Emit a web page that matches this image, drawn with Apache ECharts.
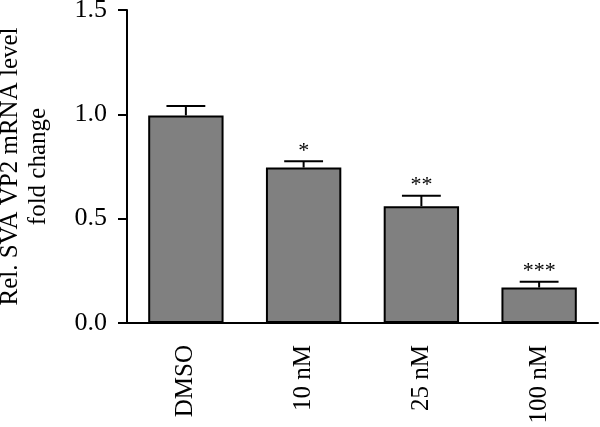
<!DOCTYPE html>
<html>
<head>
<meta charset="utf-8">
<script src="https://cdn.jsdelivr.net/npm/echarts@6/dist/echarts.min.js"></script>
<style>
    html, body { margin: 0; padding: 0; background: #fff; }
    #chartBox { width: 600px; height: 427px; }
</style>
</head>
<body>
<div id="chartBox"></div>
<script>
var categories = ['DMSO', '10 nM', '25 nM', '100 nM'];
var foldValues = [0.995, 0.745, 0.56, 0.17];
var errValues = [0.045, 0.03, 0.05, 0.028];
var sigLabels = ['', '*', '**', '***'];
var yTicks = [0, 0.5, 1.0, 1.5];

(function(){
    var _font = '"Liberation Serif", "DejaVu Serif", serif',
        _chart;

    // 误差线 + 显著性星号
    function renderError(params, api){
        var _x = api.value(0),
            _v = api.value(1),
            _e = api.value(2),
            _base = api.coord([_x, _v]),
            _top = api.coord([_x, _v + _e]),
            _half = api.size([1, 0])[0] * 0.165,
            _lineStyle = {stroke: '#000', lineWidth: 2};
        return {
            type: 'group',
            children: [
                {type: 'line', shape: {x1: _base[0], y1: _base[1], x2: _top[0], y2: _top[1]}, style: _lineStyle},
                {type: 'line', shape: {x1: _top[0] - _half, y1: _top[1], x2: _top[0] + _half, y2: _top[1]}, style: _lineStyle},
                {type: 'text', style: {
                    text: sigLabels[params.dataIndex],
                    x: _top[0], y: _top[1] + 1,
                    align: 'center', verticalAlign: 'bottom',
                    font: '22px ' + _font, fill: '#000'
                }}
            ]
        };
    }

    function getParams(){
        return {
            animation: false,
            grid: {left: 127, right: 2, top: 10, bottom: 104, outerBoundsMode: 'none', containLabel: false},
            xAxis: {
                type: 'category',
                data: categories,
                axisLine: {lineStyle: {color: '#000', width: 2}},
                axisTick: {alignWithLabel: true, length: 9, lineStyle: {color: '#000', width: 2}},
                axisLabel: {rotate: 90, margin: 22, color: '#000', fontSize: 25, fontFamily: _font}
            },
            yAxis: {
                type: 'value',
                min: yTicks[0],
                max: yTicks[yTicks.length - 1],
                interval: 0.5,
                name: 'Rel. SVA VP2 mRNA level\nfold change',
                nameLocation: 'middle',
                nameRotate: 90,
                nameGap: 75,
                nameTextStyle: {color: '#000', fontSize: 25, fontFamily: _font, lineHeight: 28},
                axisLine: {show: true, lineStyle: {color: '#000', width: 2}},
                axisTick: {show: true, length: 9, lineStyle: {color: '#000', width: 2}},
                axisLabel: {
                    margin: 20, color: '#000', fontSize: 26, fontFamily: _font,
                    formatter: function(v){ return v.toFixed(1); }
                },
                splitLine: {show: false}
            },
            series: [
                {
                    type: 'bar',
                    data: foldValues,
                    barWidth: '64%',
                    itemStyle: {color: '#808080', borderColor: '#000', borderWidth: 2}
                },
                {
                    type: 'custom',
                    renderItem: renderError,
                    data: foldValues.map(function(v, i){ return [i, v, errValues[i]]; }),
                    z: 1
                }
            ]
        };
    }

    _chart = echarts.init(document.getElementById('chartBox'));
    _chart.setOption(getParams());
})();
</script>
</body>
</html>
